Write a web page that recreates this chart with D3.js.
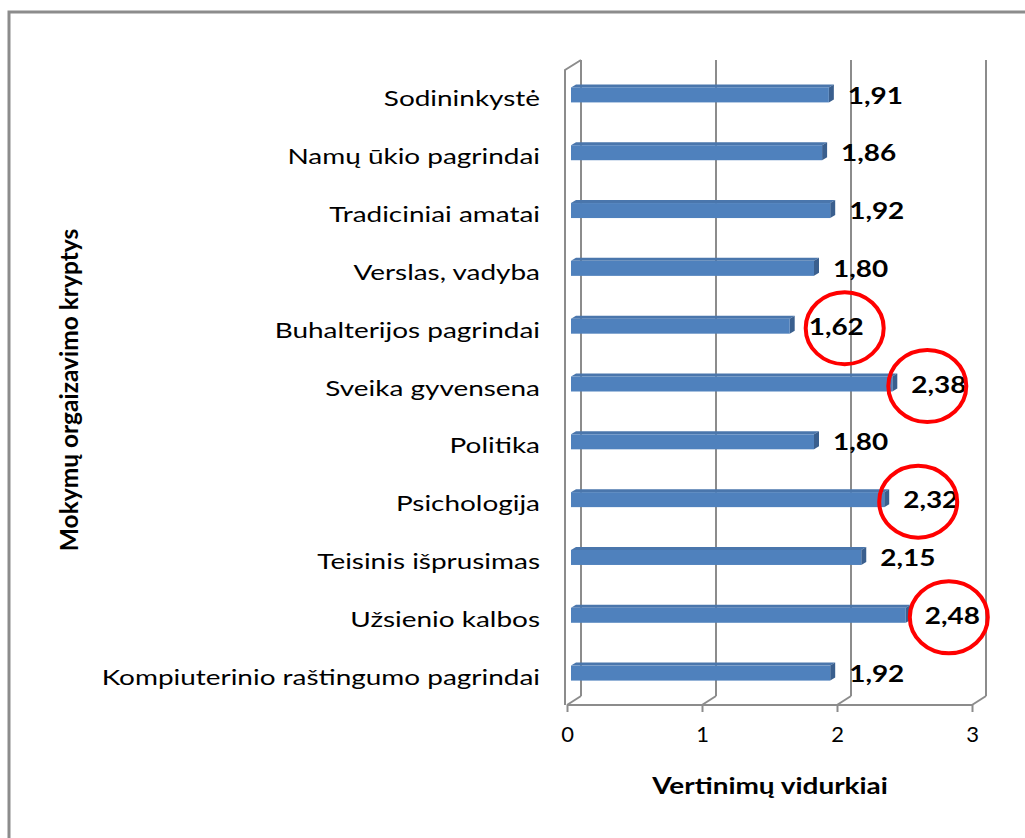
<!DOCTYPE html>
<meta charset="utf-8">
<html>
  <head>
    <style>
     body { margin: 0; background: #fff; }
     text.cat { font-family: Lato, "Open Sans", sans-serif; font-size: 22px; fill: #000; }
     text.val { font-family: Lato, "Open Sans", sans-serif; font-size: 22px; font-weight: bold; fill: #000; }
     text.title { font-family: Lato, "Open Sans", sans-serif; font-size: 22px; font-weight: bold; fill: #000; }
     .x-axis text { font-family: Lato, "Open Sans", sans-serif; font-size: 22px; fill: #000; }
     .x-axis line, .x-axis path { stroke: #8c8c8c; stroke-width: 2px; }
     line.grid, path.wall { stroke: #8c8c8c; stroke-width: 2px; fill: none; }
    </style>
    <script src="https://cdn.jsdelivr.net/npm/d3@7"></script>
  </head>
  <body>
    <div id="chart"></div>
    <script type="text/javascript">
     // categories, top to bottom
     var categories = ["Sodininkystė", "Namų ūkio pagrindai", "Tradiciniai amatai", "Verslas, vadyba",
                       "Buhalterijos pagrindai", "Sveika gyvensena", "Politika", "Psichologija",
                       "Teisinis išprusimas", "Užsienio kalbos", "Kompiuterinio raštingumo pagrindai"];
     var values = [1.91, 1.86, 1.92, 1.80, 1.62, 2.38, 1.80, 2.32, 2.15, 2.48, 1.92];
     var labels = ["1,91", "1,86", "1,92", "1,80", "1,62", "2,38", "1,80", "2,32", "2,15", "2,48", "1,92"];
     var circled = ["Buhalterijos pagrindai", "Sveika gyvensena", "Psichologija", "Užsienio kalbos"];
     var ticks = [0, 1, 2, 3];
     var xTitle = "Vertinimų vidurkiai",
         yTitle = "Mokymų orgaizavimo kryptys";

     var width = 1025, height = 838,
         depthX = 14, depthY = -9,   // back wall offset
         barDX = 4, barDY = -3,      // bars sit a bit into the depth
         sideX = 5, sideY = -3,      // bar 3d face
         stretch = 1.27;             // the source text is wide, stretch it

     var svg = d3.select("#chart").append("svg")
                 .attr("width", width)
                 .attr("height", height);

     // outer frame, runs off the picture at right and bottom
     svg.append("rect")
        .attr("x", 9).attr("y", 12)
        .attr("width", 1100).attr("height", 900)
        .attr("fill", "none")
        .attr("stroke", "#8c8c8c")
        .attr("stroke-width", 3);

     var x = d3.scaleLinear().domain([0, 3]).range([567, 972]);
     var y = d3.scaleBand().domain(categories).range([66, 702]);
     var floorY = 705;

     // back wall gridlines
     svg.selectAll(".grid")
        .data(ticks)
        .enter().append("line")
        .attr("class", "grid")
        .attr("x1", function(d) { return x(d) + depthX; })
        .attr("x2", function(d) { return x(d) + depthX; })
        .attr("y1", 60)
        .attr("y2", floorY + depthY);

     // floor diagonals
     svg.selectAll(".floor")
        .data(ticks)
        .enter().append("line")
        .attr("class", "grid")
        .attr("x1", function(d) { return x(d) + depthX; })
        .attr("x2", function(d) { return x(d); })
        .attr("y1", floorY + depthY)
        .attr("y2", floorY);

     // left side wall front edge
     svg.append("path")
        .attr("class", "wall")
        .attr("d", "M" + (x(0) - 2) + "," + floorY + "V70L" + (x(0) + depthX) + ",60");

     // front axis
     var axis = d3.axisBottom(x).tickValues(ticks).tickSize(7).tickPadding(14)
                  .tickFormat(function(d) { return d; });
     svg.append("g")
        .attr("class", "x-axis")
        .attr("transform", "translate(0," + floorY + ")")
        .call(axis)
        .call(function(g) { g.select(".domain").attr("d", "M" + x(0) + ",0H" + x(3)); });

     var data = categories.map(function(c, i) { return { cat: c, value: values[i], label: labels[i] }; });
     var bh = 15;
     var x0 = x(0) + barDX;
     function barTop(d) { return y(d.cat) + y.bandwidth() / 2 - bh / 2 + barDY + 3; }
     function barEnd(d) { return x0 + (x(d.value) - x(0)); }

     var bars = svg.selectAll(".bar")
                   .data(data)
                   .enter().append("g")
                   .attr("class", "bar");

     // top face
     bars.append("path")
         .attr("fill", "#4a76ac")
         .attr("d", function(d) {
           var yt = barTop(d), xe = barEnd(d);
           return "M" + x0 + "," + yt + "L" + (x0 + sideX) + "," + (yt + sideY) +
                  "H" + (xe + sideX) + "L" + xe + "," + yt + "Z";
         });
     // side face
     bars.append("path")
         .attr("fill", "#3a5f8e")
         .attr("d", function(d) {
           var yt = barTop(d), xe = barEnd(d);
           return "M" + xe + "," + yt + "L" + (xe + sideX) + "," + (yt + sideY) +
                  "V" + (yt + sideY + bh) + "L" + xe + "," + (yt + bh) + "Z";
         });
     // front face
     bars.append("rect")
         .attr("fill", "#4f81bd")
         .attr("x", x0)
         .attr("y", barTop)
         .attr("width", function(d) { return x(d.value) - x(0); })
         .attr("height", bh);

     // value labels
     svg.selectAll(".val")
        .data(data)
        .enter().append("text")
        .attr("class", "val")
        .attr("transform", function(d) {
          return "translate(" + (barEnd(d) + 19) + "," + (y(d.cat) + y.bandwidth() / 2 + 3) + ") scale(" + stretch + ",1)";
        })
        .attr("dominant-baseline", "middle")
        .text(function(d) { return d.label; });

     // category labels
     svg.selectAll(".cat")
        .data(categories)
        .enter().append("text")
        .attr("class", "cat")
        .attr("transform", function(d) {
          return "translate(540," + (y(d) + y.bandwidth() / 2 + 6) + ") scale(" + stretch + ",1)";
        })
        .attr("text-anchor", "end")
        .attr("dominant-baseline", "middle")
        .text(function(d) { return d; });

     // red circles round highlighted values
     var circleShift = { "Buhalterijos pagrindai": 10, "Sveika gyvensena": -10, "Psichologija": -11, "Užsienio kalbos": -2 };
     svg.selectAll(".mark")
        .data(data.filter(function(d) { return circled.indexOf(d.cat) >= 0; }))
        .enter().append("ellipse")
        .attr("cx", function(d) { return barEnd(d) + 19 + 26 + circleShift[d.cat]; })
        .attr("cy", function(d) { return y(d.cat) + y.bandwidth() / 2 + 2; })
        .attr("rx", 39)
        .attr("ry", 36)
        .attr("fill", "none")
        .attr("stroke", "#ff0000")
        .attr("stroke-width", 4);

     // axis titles
     svg.append("text")
        .attr("class", "title")
        .attr("transform", "translate(770,794) scale(" + stretch + ",1)")
        .attr("text-anchor", "middle")
        .text(xTitle);

     svg.append("text")
        .attr("class", "title")
        .style("font-size", "24.5px")
        .attr("transform", "translate(78,390) rotate(-90)")
        .attr("text-anchor", "middle")
        .text(yTitle);
    </script>
  </body>
</html>
